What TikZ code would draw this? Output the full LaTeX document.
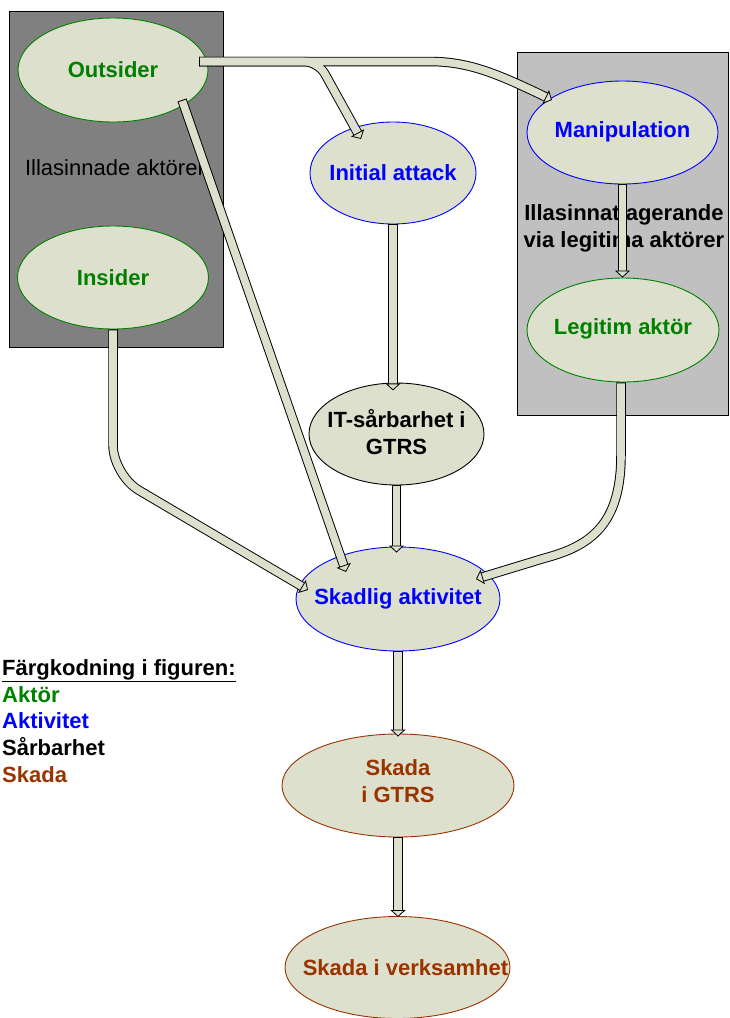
\documentclass[tikz,border=0pt]{standalone}
\usepackage{fontspec}
\setmainfont{Liberation Sans}
\usetikzlibrary{shapes.geometric,arrows.meta,decorations.markings,calc}
\definecolor{ellfill}{RGB}{221,224,204}
\definecolor{actor}{RGB}{0,128,0}
\definecolor{activ}{RGB}{0,0,255}
\definecolor{harm}{RGB}{153,51,0}
\definecolor{darkbox}{RGB}{128,128,128}
\definecolor{lightbox}{RGB}{192,192,192}
\tikzset{
  ell/.style={ellipse, fill=ellfill, line width=0.9pt, inner sep=0pt},
  lab/.style={font=\fontsize{22}{26.8}\selectfont\bfseries, align=center, inner sep=0pt},
  plainlab/.style={font=\fontsize{22}{26.8}\selectfont, align=center, inner sep=0pt},
  grpbox/.style={draw=black, line width=0.8pt, inner sep=0pt, anchor=north west},
  bandout/.style={draw=black, line width=9.5pt, shorten >=6pt},
  bandin/.style={draw=ellfill, line width=7.6pt, shorten >=5.5pt, shorten <=1pt,
    postaction={decorate, decoration={markings,
      mark=at position 1 with {\arrow[line width=0.8pt]{Triangle[length=7pt,width=15pt,fill=ellfill,color=black]}}}}},
}
\begin{document}
\begin{tikzpicture}[x=1pt,y=-1pt]
\useasboundingbox (0,0) rectangle (729,1018);

% group boxes
\node[grpbox, fill=darkbox, minimum width=214pt, minimum height=336pt] (badbox) at (9,11) {};
\node[grpbox, fill=lightbox, minimum width=211pt, minimum height=363pt] (goodbox) at (517,52) {};
\node[plainlab] (badlab) at (115,168) {Illasinnade aktörer};
\node[lab] (goodlab) at (624,228) {Illasinnat agerande\\via legitima aktörer};

% ellipses
\node[ell, draw=actor, minimum width=190pt, minimum height=104pt] (outsider) at (113,70) {};
\node[ell, draw=actor, minimum width=191pt, minimum height=103pt] (insider) at (113,277.5) {};
\node[ell, draw=activ, minimum width=166pt, minimum height=102pt] (initial) at (393,173) {};
\node[ell, draw=activ, minimum width=191pt, minimum height=103pt] (manip) at (622.5,132.5) {};
\node[ell, draw=actor, minimum width=192pt, minimum height=104pt] (legit) at (623,330) {};
\node[ell, draw=black, minimum width=175pt, minimum height=102pt] (vuln) at (396.5,434) {};
\node[ell, draw=activ, minimum width=204pt, minimum height=104pt] (skadlig) at (398,599) {};
\node[ell, draw=harm, minimum width=232pt, minimum height=103pt] (skgtrs) at (398,785.5) {};
\node[ell, draw=harm, minimum width=225pt, minimum height=102pt] (skverk) at (397.5,967.5) {};

% ellipse texts
\node[lab, text=actor] (outsidertxt) at (outsider.center) {Outsider};
\node[lab, text=actor] (insidertxt) at (insider.center) {Insider};
\node[lab, text=activ] (initialtxt) at (initial.center) {Initial attack};
\node[lab, text=activ] (maniptxt) at ($(manip.center)+(0,-1)$) {Manipulation};
\node[lab, text=actor] (legittxt) at ($(legit.center)+(0,-1)$) {Legitim aktör};
\node[lab, text=black] (vulntxt) at ($(vuln.center)+(0,-2)$) {IT-sårbarhet i\\GTRS};
\node[lab, text=activ] (skadligtxt) at (skadlig.center) {Skadlig aktivitet};
\node[lab, text=harm] (skgtrstxt) at ($(skgtrs.center)+(0,-4)$) {Skada\\i GTRS};
\node[lab, text=harm] (skverktxt) at ($(skverk.center)+(8,0)$) {Skada i verksamhet};

% legend
\node[lab, anchor=base west] (leg0) at (2,675.5) {\underline{Färgkodning i figuren:}};
\node[lab, anchor=base west, text=actor] (leg1) at (2,702) {Aktör};
\node[lab, anchor=base west, text=activ] (leg2) at (2,728.7) {Aktivitet};
\node[lab, anchor=base west, text=black] (leg3) at (2,755.5) {Sårbarhet};
\node[lab, anchor=base west, text=harm] (leg4) at (2,782.3) {Skada};

% connector end points
\coordinate (oS) at ($(outsider.center)+(86,-8.5)$);
\coordinate (oD) at ($(outsider.center)+(69,30)$);
\coordinate (tInit) at ($(initial.center)+(-32,-34)$);
\coordinate (tManip) at ($(manip.center)+(-70.5,-32.5)$);
\coordinate (tSkO) at ($(skadlig.center)+(-52,-27)$);
\coordinate (tSkI) at ($(skadlig.center)+(-90,-9)$);
\coordinate (tSkL) at ($(skadlig.center)+(78,-20)$);
\coordinate (tVuln) at ($(initial.south)+(0,166)$);
\coordinate (tSkV) at ($(vuln.south |- skadlig.north)+(0,6)$);
\coordinate (tLegit) at ($(manip.south |- legit.north)+(0,0)$);
\coordinate (tSkG) at ($(skadlig.south |- skgtrs.north)+(0,3)$);
\coordinate (tSkVerk) at ($(skgtrs.south |- skverk.north)+(0,1)$);
\coordinate (lS) at ($(legit.south)+(-2,0)$);

% connectors: outlines first
\draw[bandout, rounded corners=14pt] (oS) -- (318,61.5) -- (tInit);
\draw[bandout] (oS) -- (430,61.5) .. controls (470,61.5) and (500,75) .. (tManip);
\draw[bandin, rounded corners=14pt] (oS) -- (318,61.5) -- (tInit);
\draw[bandin] (oS) -- (430,61.5) .. controls (470,61.5) and (500,75) .. (tManip);

\draw[bandout] (oD) -- (tSkO);
\draw[bandin] (oD) -- (tSkO);

\draw[bandout, rounded corners=30pt] (insider.south) -- (113,475) -- (tSkI);
\draw[bandin, rounded corners=30pt] (insider.south) -- (113,475) -- (tSkI);

\draw[bandout] (initial.south) -- (tVuln);
\draw[bandin] (initial.south) -- (tVuln);

\draw[bandout] (vuln.south) -- (tSkV);
\draw[bandin] (vuln.south) -- (tSkV);

\draw[bandout] (manip.south) -- (tLegit);
\draw[bandin] (manip.south) -- (tLegit);

\draw[bandout] (lS) -- (621,455) .. controls (621,525) and (590,546) .. (545,558) -- (tSkL);
\draw[bandin] (lS) -- (621,455) .. controls (621,525) and (590,546) .. (545,558) -- (tSkL);

\draw[bandout] (skadlig.south) -- (tSkG);
\draw[bandin] (skadlig.south) -- (tSkG);

\draw[bandout] (skgtrs.south) -- (tSkVerk);
\draw[bandin] (skgtrs.south) -- (tSkVerk);
\end{tikzpicture}
\end{document}
